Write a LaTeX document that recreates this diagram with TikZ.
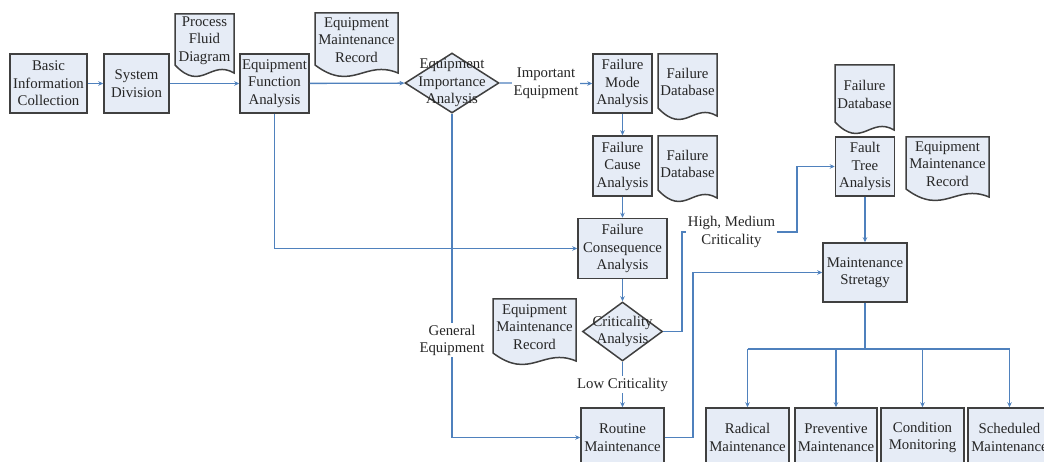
\documentclass[tikz,border=0pt]{standalone}
\usepackage{fontspec}
\setmainfont{Liberation Serif}
\usetikzlibrary{arrows.meta,shapes.geometric}
\definecolor{boxfill}{HTML}{E6ECF6}
\definecolor{boxline}{HTML}{404040}
\definecolor{lineblue}{HTML}{4F81BD}
\newcommand{\docshape}[6]{%
  \draw[docbox] (#2,#4) -- (#3,#4) -- (#3,#5+8)
     .. controls ({#2+0.6*(#3-#2)},{#5-6}) and ({#2+0.45*(#3-#2)},{#5+28}) .. (#2,#5) -- cycle;
  \node[txt] (#1) at ({(#2+#3)/2},{(#4+#5)/2+1}) {#6};}
\begin{document}
\begin{tikzpicture}[x=1pt,y=-1pt,
  txt/.style={align=center,inner sep=0pt,text=black!85,font=\fontsize{14.8}{17.5}\selectfont},
  procbox/.style={txt,draw=boxline,fill=boxfill,line width=1.5pt,minimum height=59pt},
  docbox/.style={draw=boxline,fill=boxfill,line width=1.5pt},
  dia/.style={diamond,draw=boxline,fill=boxfill,line width=1.5pt,inner sep=0pt},
  line/.style={draw=lineblue,line width=1.3pt},
  conn/.style={line,-{Stealth[length=5pt,width=4.5pt]}},
  lbl/.style={txt,fill=white,inner sep=1.5pt}]
\clip (0,0) rectangle (1044,462);
\fill[white] (0,0) rectangle (1044,462);

% process boxes
\node[procbox,minimum width=77pt] (bic) at (48.5,83.5) {Basic\\Information\\Collection};
\node[procbox,minimum width=65pt] (sd) at (136.5,83.5) {System\\Division};
\node[procbox,minimum width=69pt] (efa) at (274.5,83.5) {Equipment\\Function\\Analysis};
\node[dia,minimum width=94pt,minimum height=60pt] (eia) at (452,83) {};
\node[txt] (eiat) at (452,83) {Equipment\\Importance\\Analysis};
\node[procbox,minimum width=59pt] (fma) at (622.5,83.5) {Failure\\Mode\\Analysis};
\node[procbox,minimum width=59pt,minimum height=60pt] (fca) at (622.5,166) {Failure\\Cause\\Analysis};
\node[procbox,minimum width=89pt,minimum height=60pt] (fcons) at (622.5,248.5) {Failure\\Consequence\\Analysis};
\node[dia,minimum width=80pt,minimum height=59pt] (ca) at (622.5,331.5) {};
\node[txt] (cat) at (622.5,331.5) {Criticality\\Analysis};
\node[procbox,minimum width=83pt] (rm) at (622.5,437.5) {Routine\\Maintenance};
\node[procbox,minimum width=59pt] (fta) at (865,166.5) {Fault\\Tree\\Analysis};
\node[procbox,minimum width=84pt] (ms) at (865,272.5) {Maintenance\\Stretagy};
\node[procbox,minimum width=83pt] (rad) at (747.5,437.5) {Radical\\Maintenance};
\node[procbox,minimum width=82pt] (prev) at (836,437.5) {Preventive\\Maintenance};
\node[procbox,minimum width=83pt] (cond) at (922.5,437.5) {Condition\\Monitoring};
\node[procbox,minimum width=83pt] (sched) at (1009.5,437.5) {Scheduled\\Maintenance};

% document shapes
\docshape{pfd}{175}{234}{14}{65}{Process\\Fluid\\Diagram}
\docshape{emr1}{315}{398}{13}{65}{Equipment\\Maintenance\\Record}
\docshape{fdb1}{658}{717}{54}{108}{Failure\\Database}
\docshape{fdb2}{658}{717}{136}{190}{Failure\\Database}
\docshape{fdb3}{835}{894}{65}{122}{Failure\\Database}
\docshape{emr2}{906}{989}{137}{189}{Equipment\\Maintenance\\Record}
\docshape{emr3}{493}{576}{299}{353}{Equipment\\Maintenance\\Record}

% connectors
\draw[conn] (bic) -- (sd);
\draw[conn] (sd) -- (efa);
\draw[conn] (efa) -- (eia);
\draw[conn] (eia.east) -- node[lbl,pos=0.5] {Important\\Equipment} (fma.west);
\draw[conn] (fma) -- (fca);
\draw[conn] (fca) -- (fcons);
\draw[conn] (efa.south) |- (fcons.west);
\draw[conn] (eia.south) |- node[lbl,pos=0.35] {General\\Equipment} (rm.west);
\draw[conn] (fcons.south) -- (ca.north);
\coordinate (h1) at (682,232);
\coordinate (h2) at (797,232);
\draw[conn] (ca.east) -| (h1) -- node[lbl,pos=0.43] {High, Medium\\Criticality} (h2) |- (fta.west);
\draw[conn] (ca.south) -- node[lbl] {Low Criticality} (rm.north);
\coordinate (r1) at (693,272.5);
\draw[conn] (rm.east) -| (r1) -- (ms.west);
\draw[conn] (fta.south) -- (ms.north);
\coordinate (br) at (865,349);
\coordinate (bl) at (747.5,349);
\coordinate (bri) at (1009.5,349);
\draw[line] (ms.south) -- (br);
\draw[line] (bl) -- (bri);
\draw[conn] (bl) -- (rad.north);
\draw[conn] (prev.north |- br) -- (prev.north);
\draw[conn] (cond.north |- br) -- (cond.north);
\draw[conn] (bri) -- (sched.north);
\end{tikzpicture}
\end{document}
